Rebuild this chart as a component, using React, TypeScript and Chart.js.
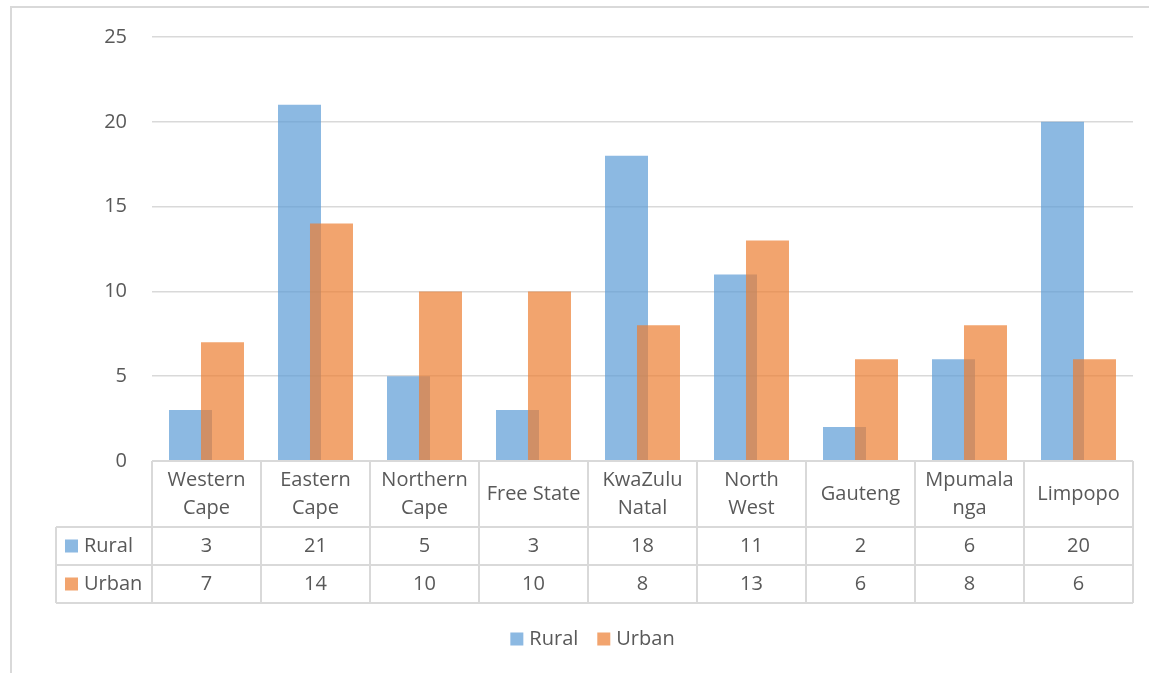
import React, { useEffect, useRef } from "react";
import { Chart, registerables } from "chart.js";

Chart.register(...registerables);

const categories: string[][] = [
  ["Western", "Cape"],
  ["Eastern", "Cape"],
  ["Northern", "Cape"],
  ["Free State"],
  ["KwaZulu", "Natal"],
  ["North", "West"],
  ["Gauteng"],
  ["Mpumala", "nga"],
  ["Limpopo"],
];
const rural = [3, 21, 5, 3, 18, 11, 2, 6, 20];
const urban = [7, 14, 10, 10, 8, 13, 6, 8, 6];
const seriesNames = ["Rural", "Urban"];
const yTicksMax = 25;
const yStep = 5;

const FONT = "'Open Sans', Lato, sans-serif";
const TEXT = "#595959";
const LINE = "#d9d9d9";
const RURAL_C = "rgba(91,155,213,0.7)";
const URBAN_C = "rgba(237,125,49,0.7)";

// draw datasets in index order so Urban sits on top of Rural where they overlap
const drawOrderPlugin = {
  id: "drawOrder",
  beforeDatasetsDraw(chart: any) {
    const n = chart.data.datasets.length;
    for (let i = 0; i < n; i++) {
      const meta = chart.getDatasetMeta(i);
      if (meta.visible !== false && meta.controller) meta.controller.draw();
    }
    return false;
  },
};

const tablePlugin = {
  id: "dataTable",
  afterDraw(chart: any) {
    const { ctx, chartArea, scales } = chart;
    const x = scales.x;
    const n = categories.length;
    const colW = (chartArea.right - chartArea.left) / n;
    const top = chartArea.bottom;
    const headerH = 66;
    const rowH = 38;
    const labelLeft = 56;
    const r1 = top + headerH;
    const r2 = r1 + rowH;
    const r3 = r2 + rowH;
    ctx.save();
    ctx.strokeStyle = LINE;
    ctx.lineWidth = 2;
    ctx.strokeRect(11, 7, chart.width + 20, chart.height + 20);
    ctx.beginPath();
    ctx.moveTo(chartArea.left, top);
    ctx.lineTo(chartArea.right, top);
    [r1, r2, r3].forEach((yy) => {
      ctx.moveTo(labelLeft, yy);
      ctx.lineTo(chartArea.right, yy);
    });
    ctx.moveTo(labelLeft, r1);
    ctx.lineTo(labelLeft, r3);
    for (let i = 0; i <= n; i++) {
      const xx = i < n ? x.getPixelForValue(i) - colW / 2 : x.getPixelForValue(n - 1) + colW / 2;
      ctx.moveTo(xx, top);
      ctx.lineTo(xx, r3);
    }
    ctx.stroke();

    ctx.fillStyle = TEXT;
    ctx.font = `20px ${FONT}`;
    ctx.textAlign = "center";
    ctx.textBaseline = "middle";
    const lh = 28;
    categories.forEach((lines, i) => {
      const cx = x.getPixelForValue(i);
      const mid = top + headerH / 2;
      lines.forEach((t, j) => {
        const yy = mid + (j - (lines.length - 1) / 2) * lh;
        ctx.fillText(t, cx, yy);
      });
      ctx.fillText(String(rural[i]), cx, r1 + rowH / 2);
      ctx.fillText(String(urban[i]), cx, r2 + rowH / 2);
    });
    const colors = [RURAL_C, URBAN_C];
    [r1, r2].forEach((ry, k) => {
      ctx.fillStyle = colors[k];
      ctx.fillRect(labelLeft + 9, ry + rowH / 2 - 6.5, 13, 13);
      ctx.fillStyle = TEXT;
      ctx.textAlign = "left";
      ctx.fillText(seriesNames[k], labelLeft + 28, ry + rowH / 2);
    });
    // legend
    const ly = 639;
    const items = seriesNames.map((s) => ctx.measureText(s).width);
    const sq = 13;
    const gapIn = 6;
    const gapBetween = 19;
    const total = items.reduce((a, w) => a + sq + gapIn + w, 0) + gapBetween;
    let lx = (chartArea.left + chartArea.right) / 2 - total / 2 - 50;
    seriesNames.forEach((s, k) => {
      ctx.fillStyle = colors[k];
      ctx.fillRect(lx, ly - sq / 2, sq, sq);
      ctx.fillStyle = TEXT;
      ctx.textAlign = "left";
      ctx.fillText(s, lx + sq + gapIn, ly);
      lx += sq + gapIn + items[k] + gapBetween;
    });
    ctx.restore();
  },
};

export default function App() {
  const ref = useRef<HTMLCanvasElement>(null);
  useEffect(() => {
    if (!ref.current) return;
    const chart = new Chart(ref.current, {
      type: "bar",
      data: {
        labels: categories.map((c) => c.join(" ")),
        datasets: [
          { label: seriesNames[0], data: rural, backgroundColor: RURAL_C },
          { label: seriesNames[1], data: urban, backgroundColor: URBAN_C },
        ],
      },
      options: {
        animation: false,
        responsive: true,
        maintainAspectRatio: false,
        datasets: {
          bar: { categoryPercentage: 0.587, barPercentage: 1.344 },
        },
        layout: { padding: { left: 0, right: 16, top: 35, bottom: 212 } },
        plugins: { legend: { display: false }, tooltip: { enabled: false } },
        scales: {
          x: { display: false },
          y: {
            min: 0,
            max: yTicksMax,
            ticks: {
              stepSize: yStep,
              color: TEXT,
              font: { family: FONT, size: 20 },
              padding: 25,
            },
            grid: { color: LINE, lineWidth: 1.5, drawTicks: false },
            border: { display: false },
            afterFit: (s: any) => {
              s.width = 152;
            },
          },
        },
      },
      plugins: [drawOrderPlugin, tablePlugin],
    });
    return () => chart.destroy();
  }, []);
  return (
    <div style={{ position: "absolute", left: 0, top: 0, width: 1149, height: 673, background: "#fff" }}>
      <canvas ref={ref} />
    </div>
  );
}
